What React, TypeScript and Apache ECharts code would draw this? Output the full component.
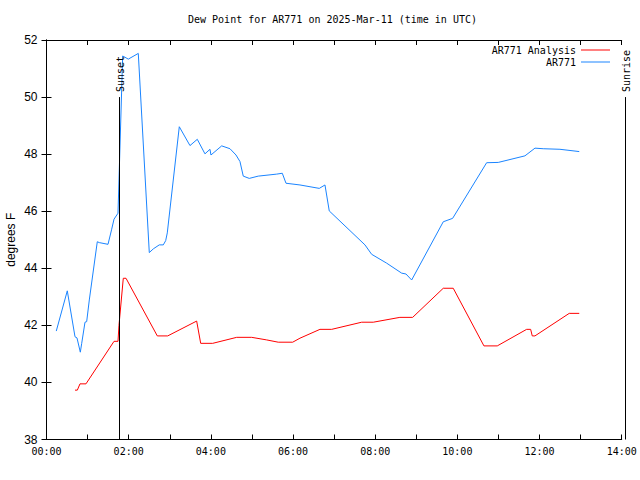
import React, { useEffect, useRef } from "react";
import * as echarts from "echarts";

const titleText = "Dew Point for AR771 on 2025-Mar-11 (time in UTC)";
const yAxisName = "degrees F";

// times in decimal hours (UTC)
const analysisHours = [0.694, 0.75, 0.815, 0.961, 1.643, 1.74, 1.764, 1.869, 1.935, 2.697, 2.95, 3.655, 3.753, 4.045, 4.629, 4.994, 5.359, 5.641, 5.992, 6.169, 6.656, 6.941, 7.671, 7.953, 8.601, 8.912, 9.657, 9.9, 10.647, 10.971, 11.686, 11.784, 11.823, 11.889, 12.723, 12.967];
const analysisValues = [39.73, 39.73, 39.95, 39.95, 41.44, 41.44, 42.0, 43.65, 43.65, 41.63, 41.63, 42.15, 41.37, 41.37, 41.58, 41.58, 41.49, 41.41, 41.41, 41.55, 41.86, 41.86, 42.11, 42.11, 42.28, 42.28, 43.3, 43.3, 41.28, 41.28, 41.86, 41.86, 41.63, 41.63, 42.42, 42.42];

const obsHours = [0.238, 0.506, 0.694, 0.742, 0.823, 0.857, 0.937, 0.978, 1.042, 1.236, 1.285, 1.497, 1.587, 1.643, 1.74, 1.854, 1.991, 2.234, 2.502, 2.599, 2.745, 2.843, 2.901, 2.94, 3.232, 3.492, 3.67, 3.857, 3.979, 4.003, 4.264, 4.466, 4.612, 4.709, 4.789, 4.935, 5.154, 5.602, 5.739, 5.829, 6.169, 6.639, 6.778, 6.882, 7.751, 7.914, 8.279, 8.644, 8.749, 8.888, 9.657, 9.885, 10.713, 10.995, 11.645, 11.889, 12.09, 12.497, 12.967];
const obsValues = [41.8, 43.21, 41.6, 41.56, 41.06, 41.37, 42.11, 42.13, 42.89, 44.93, 44.9, 44.84, 45.37, 45.72, 45.93, 51.44, 51.33, 51.53, 44.55, 44.68, 44.82, 44.82, 44.97, 45.24, 48.96, 48.3, 48.52, 48.01, 48.17, 47.97, 48.29, 48.19, 47.97, 47.74, 47.23, 47.15, 47.23, 47.3, 47.33, 46.98, 46.92, 46.8, 46.92, 46.01, 44.82, 44.49, 44.18, 43.83, 43.8, 43.59, 45.63, 45.75, 47.7, 47.71, 47.94, 48.21, 48.19, 48.17, 48.09];

const seriesNames = ["AR771 Analysis", "AR771"];
const seriesColors = ["#ff0000", "#1a84ff"];

const sunsetHours = 1.764;
const sunriseHours = 14.09;
const markerTopValue = 50;

const xMin = 0;
const xMax = 14;
const yMin = 38;
const yMax = 52;

const mono = "DejaVu Sans Mono";
const sans = "Liberation Sans";

function pad(n: number) {
  return (n < 10 ? "0" : "") + n;
}

export default function App() {
  const ref = useRef<HTMLDivElement>(null);

  useEffect(() => {
    if (!ref.current) return;
    const chart = echarts.init(ref.current, undefined, { renderer: "svg" });
    const xBase = {
      type: "value" as const,
      min: xMin,
      max: xMax,
      interval: 1,
      axisLine: { show: true, lineStyle: { color: "#000", width: 1 } },
      axisTick: { show: true, inside: true, length: 5, lineStyle: { color: "#000" } },
      splitLine: { show: false },
    };
    const yBase = {
      type: "value" as const,
      min: yMin,
      max: yMax,
      interval: 2,
      axisLine: { show: true, lineStyle: { color: "#000", width: 1 } },
      axisTick: { show: true, inside: true, length: 5, lineStyle: { color: "#000" } },
      splitLine: { show: false },
    };
    chart.setOption({
      animation: false,
      backgroundColor: "#fff",
      title: {
        text: titleText,
        left: 188,
        top: 14,
        padding: 0,
        textStyle: { fontFamily: mono, fontSize: 10, fontWeight: "normal", color: "#000" },
      },
      legend: {
        data: seriesNames,
        orient: "vertical",
        align: "right",
        right: 30,
        top: 44,
        padding: 0,
        itemGap: 0,
        itemWidth: 29,
        itemHeight: 1,
        icon: "rect",
        textStyle: { fontFamily: mono, fontSize: 10, color: "#000", lineHeight: 12 },
      },
      grid: {
        left: 46.5,
        right: 18.3,
        top: 40,
        bottom: 40.5,
        show: false,
        containLabel: false,
        outerBoundsMode: "none",
      },
      xAxis: [
        {
          ...xBase,
          position: "bottom",
          axisLabel: {
            show: true,
            fontFamily: mono,
            fontSize: 10,
            color: "#000",
            margin: 7,
            formatter: (v: number) => (v % 2 === 0 ? pad(v) + ":00" : ""),
          },
        },
        { ...xBase, position: "top", axisLabel: { show: false } },
      ],
      yAxis: [
        {
          ...yBase,
          position: "left",
          axisLabel: { show: true, fontFamily: sans, fontSize: 12, color: "#000", margin: 9 },
        },
        { ...yBase, position: "right", axisLabel: { show: false } },
      ],
      series: [
        {
          name: seriesNames[0],
          type: "line",
          data: analysisHours.map((h, i) => [h, analysisValues[i]]),
          showSymbol: false,
          symbol: "none",
          color: seriesColors[0],
          lineStyle: { width: 1, color: seriesColors[0] },
        },
        {
          name: seriesNames[1],
          type: "line",
          data: obsHours.map((h, i) => [h, obsValues[i]]),
          showSymbol: false,
          symbol: "none",
          color: seriesColors[1],
          lineStyle: { width: 1, color: seriesColors[1] },
        },
      ],
    });

    const mk = (hours: number, label: string) => {
      const bottom = chart.convertToPixel({ gridIndex: 0 }, [hours, yMin]) as number[];
      const top = chart.convertToPixel({ gridIndex: 0 }, [hours, markerTopValue]) as number[];
      const x = Math.round(bottom[0]) + 0.5;
      return [
        {
          type: "line",
          shape: { x1: x, y1: bottom[1], x2: x, y2: top[1] },
          style: { stroke: "#000", lineWidth: 1 },
          z: 10,
        },
        {
          type: "text",
          x: x + 1,
          y: top[1] - 5,
          rotation: Math.PI / 2,
          style: {
            text: label,
            fontFamily: mono,
            fontSize: 10,
            fill: "#000",
            align: "left",
            verticalAlign: "middle",
          },
          z: 10,
        },
      ];
    };
    const yTop = chart.convertToPixel({ gridIndex: 0 }, [xMin, yMax]) as number[];
    const yBot = chart.convertToPixel({ gridIndex: 0 }, [xMin, yMin]) as number[];
    chart.setOption({
      graphic: [
        ...mk(sunsetHours, "Sunset"),
        ...mk(sunriseHours, "Sunrise"),
        {
          type: "text",
          x: 11,
          y: (yTop[1] + yBot[1]) / 2,
          rotation: Math.PI / 2,
          style: {
            text: yAxisName,
            fontFamily: sans,
            fontSize: 12,
            fill: "#000",
            align: "center",
            verticalAlign: "middle",
          },
        },
      ],
    });

    return () => chart.dispose();
  }, []);

  return (
    <div
      ref={ref}
      style={{ position: "fixed", left: 0, top: 0, width: 640, height: 480 }}
    />
  );
}
